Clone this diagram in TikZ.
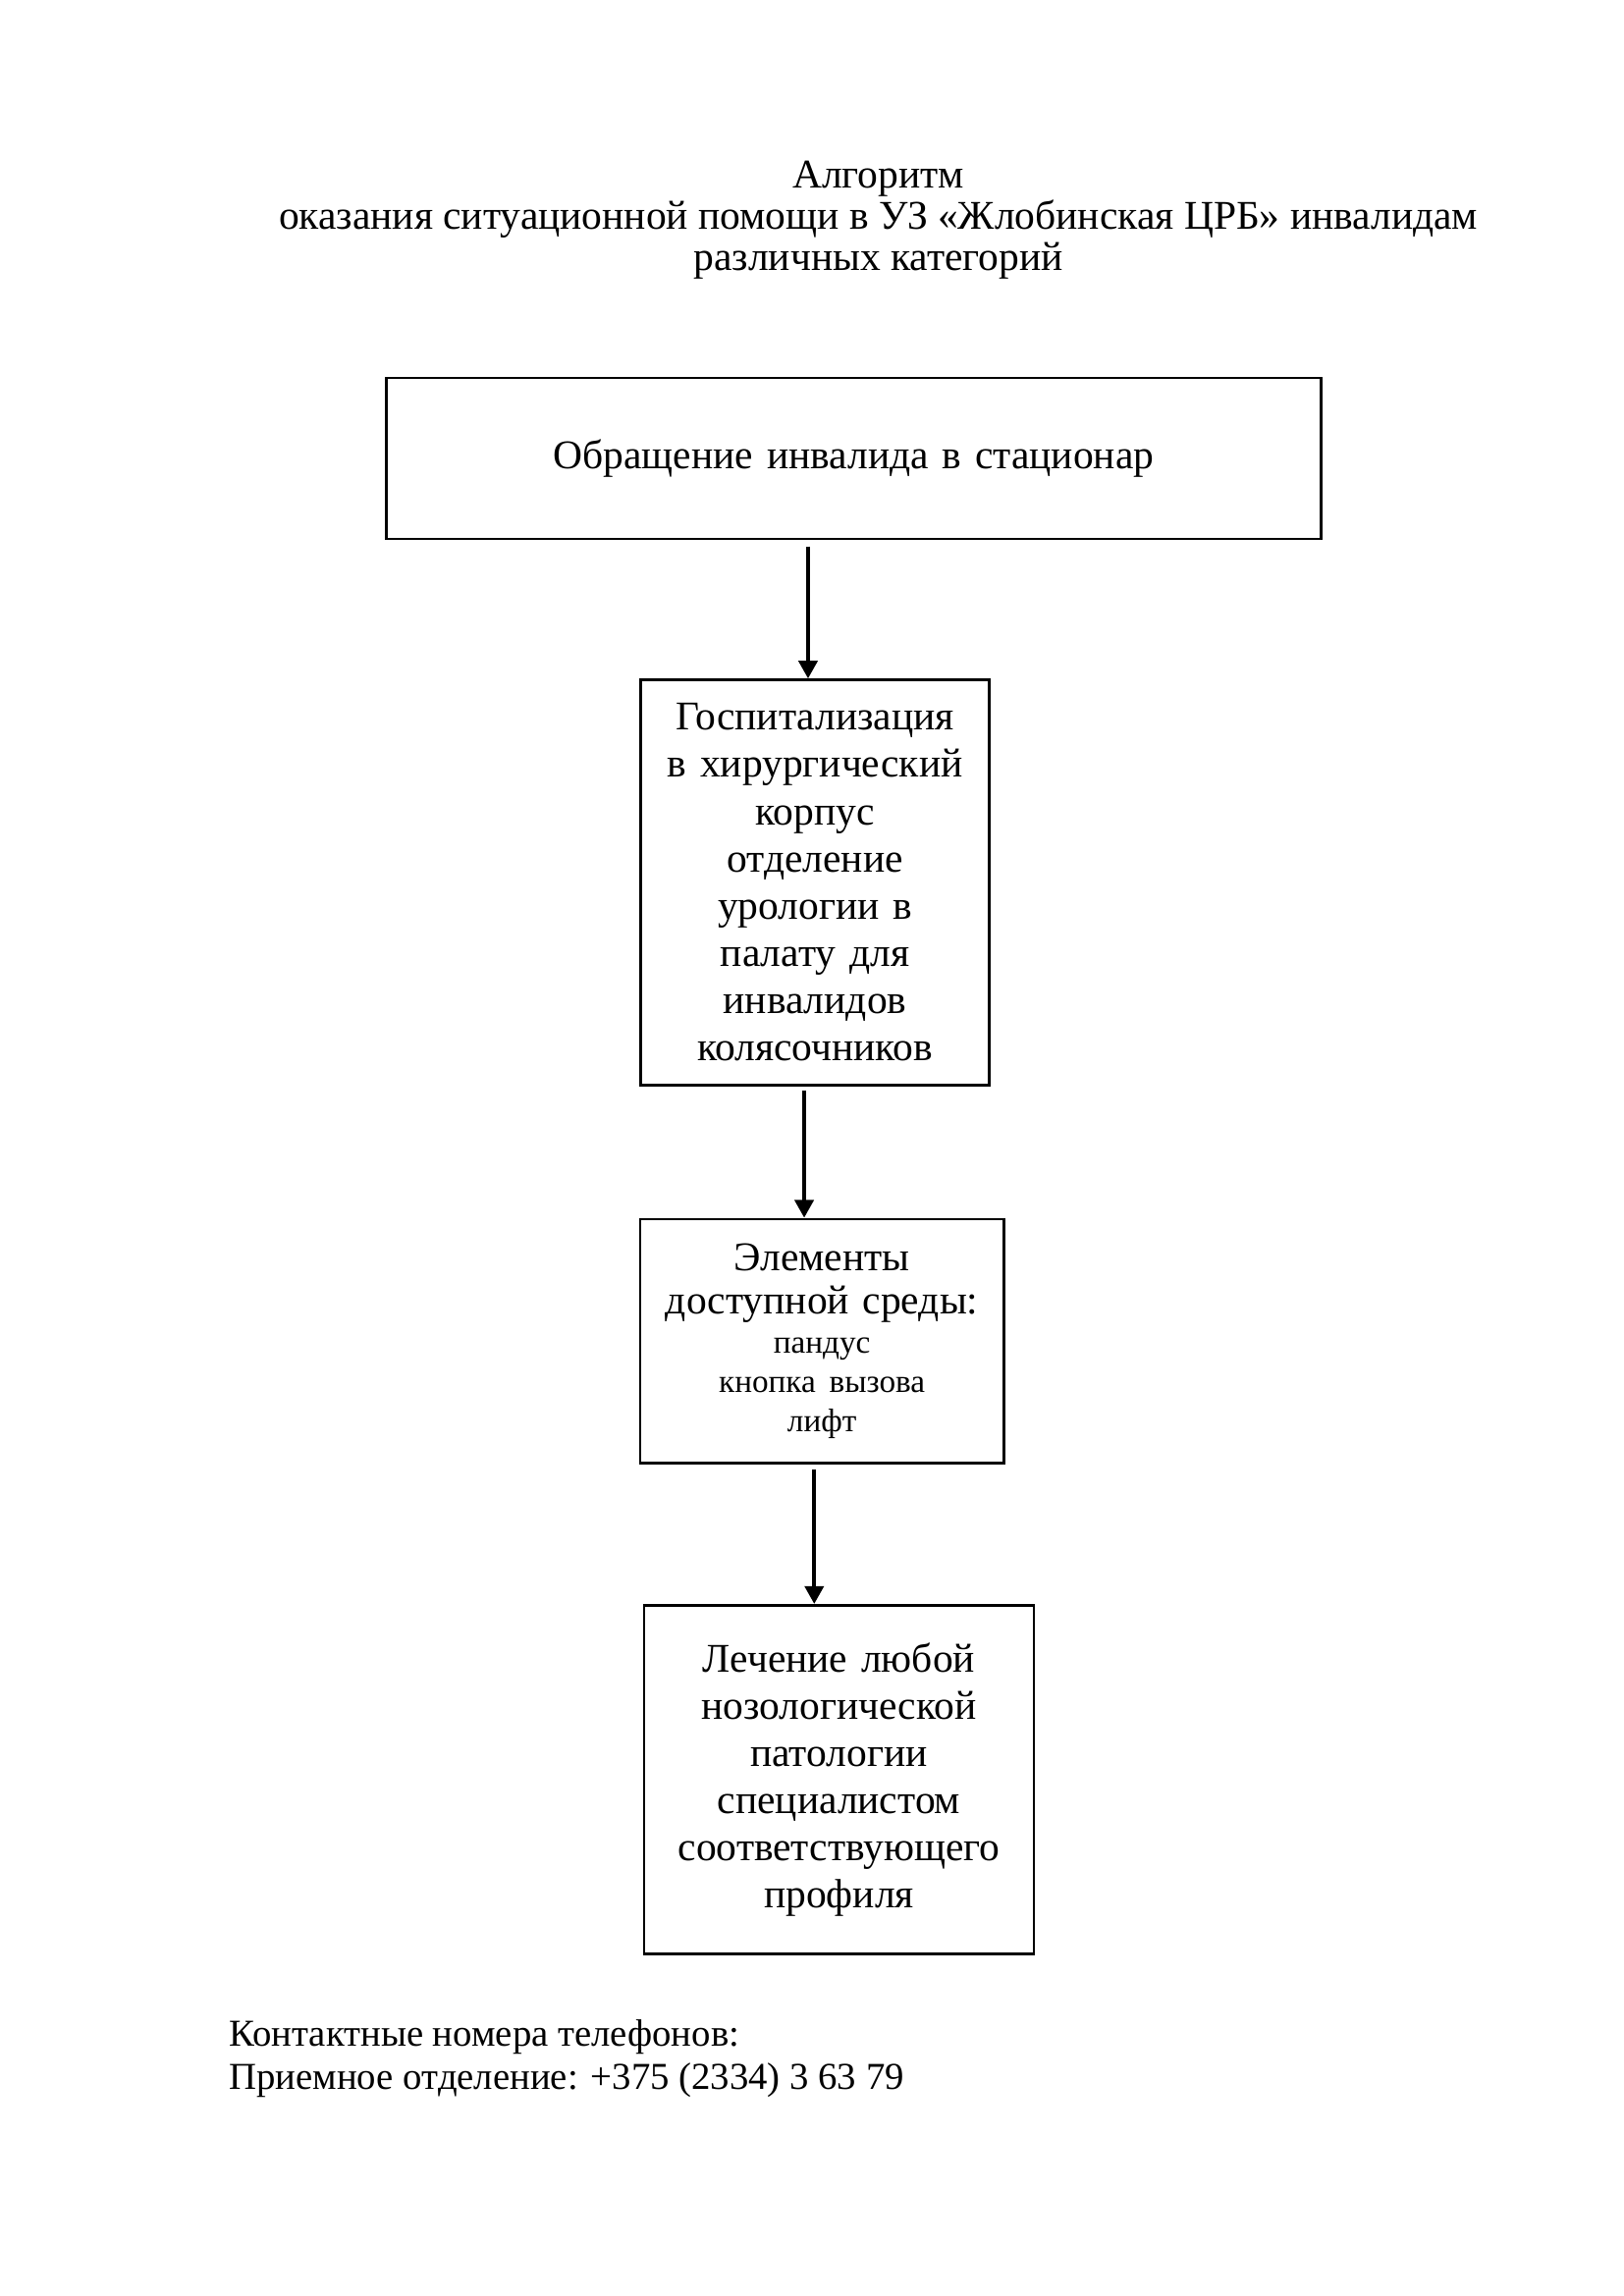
\documentclass[tikz,border=0pt]{standalone}
\usepackage{fontspec}
\setmainfont{Liberation Serif}
\usetikzlibrary{arrows.meta, positioning}

\begin{document}
\begin{tikzpicture}[
    box/.style={draw, line width=1pt, align=center, inner xsep=0pt, inner ysep=0pt,
                font=\fontsize{15}{17.4}\selectfont},
    arr/.style={-{Triangle[length=2.3mm, width=2.4mm]}, line width=1.5pt}
  ]
    \useasboundingbox (0,0) rectangle (21,-29.7);
    \node[align=center, font=\fontsize{15}{15.1}\selectfont] (title) at (11.36,-2.85)
      {Алгоритм\\оказания ситуационной помощи в УЗ «Жлобинская ЦРБ» инвалидам\\различных категорий};
    \node[box, text width=12.08cm, minimum height=2.08cm] (b1) at (11.04,-5.93)
      {Обращение инвалида в стационар};
    \node[box, text width=4.5cm, minimum height=5.24cm, below=1.79cm of b1, xshift=-5mm] (b2)
      {Госпитализация\\в хирургический\\корпус\\отделение\\урологии в\\палату для\\инвалидов\\колясочников};
    \node[box, text width=4.7cm, minimum height=3.16cm, below=1.70cm of b2, xshift=0.9mm] (b3)
      {\fontsize{15}{15.6}\selectfont Элементы\\доступной среды:\par
       {\fontsize{12}{14.5}\selectfont пандус\\кнопка вызова\\лифт\par}};
    \node[box, text width=5.04cm, minimum height=4.51cm, below=1.80cm of b3, xshift=2.2mm] (b4)
      {Лечение любой\\нозологической\\патологии\\специалистом\\соответствующего\\профиля};
    \node[anchor=west, align=left, font=\fontsize{14}{16.1}\selectfont] (contact) at (2.84,-26.63)
      {Контактные номера телефонов:\\Приемное отделение: +375 (2334) 3 63 79};
    \draw[arr] ([xshift=-0.9mm, yshift=-0.8mm]b1.south -| b2.north) -- ([xshift=-0.9mm]b2.north);
    \draw[arr] ([xshift=-1.4mm, yshift=-0.6mm]b2.south) -- ([xshift=-1.4mm]b2.south |- b3.north);
    \draw[arr] ([xshift=-1mm, yshift=-0.6mm]b3.south) -- ([xshift=-1mm]b3.south |- b4.north);
  \end{tikzpicture}
\end{document}
